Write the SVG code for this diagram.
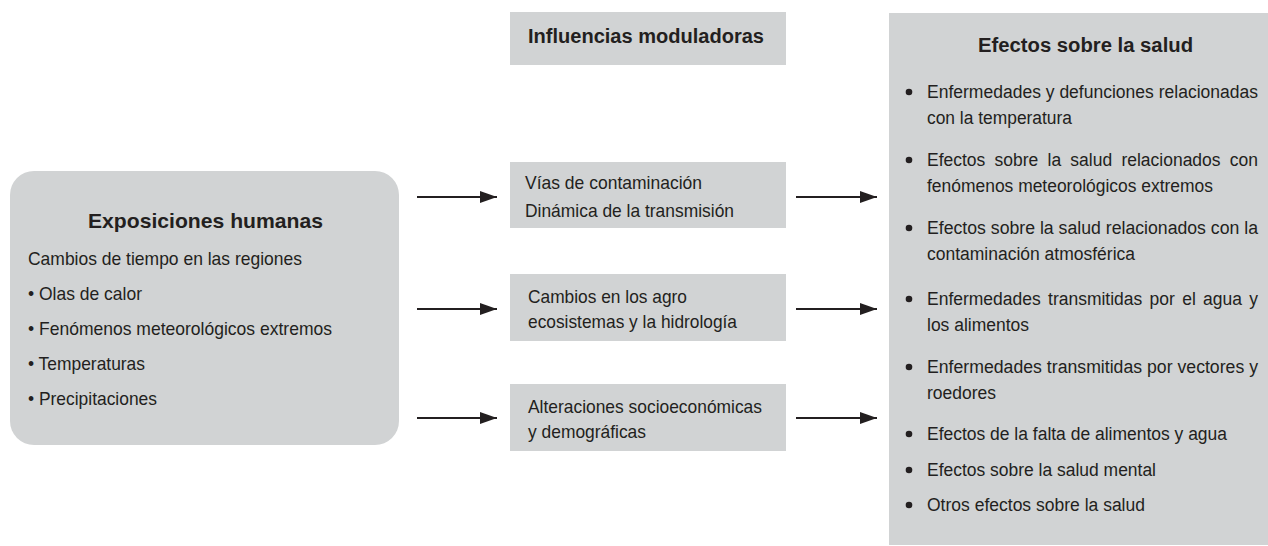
<svg xmlns="http://www.w3.org/2000/svg" width="1268" height="546" viewBox="0 0 1268 546">
<style>
.box{fill:#d1d3d4}
.t{font-family:"Liberation Sans",Arial,sans-serif;font-size:19px;fill:#231f20}
.r{font-family:"Liberation Sans",Arial,sans-serif;font-size:18px;fill:#231f20}
.b{font-family:"Liberation Sans",Arial,sans-serif;font-size:20px;font-weight:bold;fill:#231f20}
.ln{stroke:#231f20;stroke-width:2;fill:none}
.dot{fill:#231f20}
</style>
<defs>
<marker id="ah" markerWidth="17" markerHeight="12" refX="17" refY="6" orient="auto" markerUnits="userSpaceOnUse">
<path d="M0,0 L17,6 L0,12 Z" fill="#231f20"/>
</marker>
</defs>
<rect width="1268" height="546" fill="#ffffff"/>

<g id="exposiciones">
<rect class="box" x="10" y="171" width="389" height="274" rx="24" ry="24"/>
<text class="b" x="88" y="228" style="font-size:21px" textLength="235" lengthAdjust="spacingAndGlyphs">Exposiciones humanas</text>
<text class="t" x="28" y="265" textLength="274" lengthAdjust="spacingAndGlyphs">Cambios de tiempo en las regiones</text>
<text class="t" x="28" y="300" textLength="114" lengthAdjust="spacingAndGlyphs">• Olas de calor</text>
<text class="t" x="28" y="335" textLength="304" lengthAdjust="spacingAndGlyphs">• Fenómenos meteorológicos extremos</text>
<text class="t" x="28" y="370" textLength="117" lengthAdjust="spacingAndGlyphs">• Temperaturas</text>
<text class="t" x="28" y="405" textLength="129" lengthAdjust="spacingAndGlyphs">• Precipitaciones</text>
</g>

<g id="influencias">
<rect class="box" x="510" y="12" width="276" height="53"/>
<text class="b" x="528" y="43" textLength="236" lengthAdjust="spacingAndGlyphs">Influencias moduladoras</text>
</g>

<g id="vias">
<rect class="box" x="510" y="162" width="276" height="66"/>
<text class="t" x="525" y="189" textLength="177" lengthAdjust="spacingAndGlyphs">Vías de contaminación</text>
<text class="t" x="525" y="217" textLength="209" lengthAdjust="spacingAndGlyphs">Dinámica de la transmisión</text>
</g>

<g id="agro">
<rect class="box" x="510" y="274" width="276" height="67"/>
<text class="t" x="528" y="303" textLength="159" lengthAdjust="spacingAndGlyphs">Cambios en los agro</text>
<text class="t" x="528" y="328" textLength="209" lengthAdjust="spacingAndGlyphs">ecosistemas y la hidrología</text>
</g>

<g id="alteraciones">
<rect class="box" x="510" y="384" width="276" height="67"/>
<text class="t" x="528" y="413" textLength="234" lengthAdjust="spacingAndGlyphs">Alteraciones socioeconómicas</text>
<text class="t" x="528" y="438" textLength="118" lengthAdjust="spacingAndGlyphs">y demográficas</text>
</g>

<g id="efectos">
<rect class="box" x="889" y="13" width="379" height="532"/>
<text class="b" x="978" y="52" textLength="215" lengthAdjust="spacingAndGlyphs">Efectos sobre la salud</text>
<circle class="dot" cx="909" cy="92" r="3.3"/>
<text class="r" x="927" y="98" textLength="331" lengthAdjust="spacingAndGlyphs">Enfermedades y defunciones relacionadas</text>
<text class="r" x="927" y="124" textLength="145" lengthAdjust="spacingAndGlyphs">con la temperatura</text>
<circle class="dot" cx="909" cy="160" r="3.3"/>
<text class="r" x="927" y="166" style="word-spacing:4.5px" textLength="331" lengthAdjust="spacingAndGlyphs">Efectos sobre la salud relacionados con</text>
<text class="r" x="927" y="192" textLength="286" lengthAdjust="spacingAndGlyphs">fenómenos meteorológicos extremos</text>
<circle class="dot" cx="909" cy="228" r="3.3"/>
<text class="r" x="927" y="234" textLength="331" lengthAdjust="spacingAndGlyphs">Efectos sobre la salud relacionados con la</text>
<text class="r" x="927" y="260" textLength="208" lengthAdjust="spacingAndGlyphs">contaminación atmosférica</text>
<circle class="dot" cx="909" cy="299" r="3.3"/>
<text class="r" x="927" y="305" style="word-spacing:2.5px" textLength="331" lengthAdjust="spacingAndGlyphs">Enfermedades transmitidas por el agua y</text>
<text class="r" x="927" y="331" textLength="102" lengthAdjust="spacingAndGlyphs">los alimentos</text>
<circle class="dot" cx="909" cy="367" r="3.3"/>
<text class="r" x="927" y="373" textLength="331" lengthAdjust="spacingAndGlyphs">Enfermedades transmitidas por vectores y</text>
<text class="r" x="927" y="399" textLength="69" lengthAdjust="spacingAndGlyphs">roedores</text>
<circle class="dot" cx="909" cy="434" r="3.3"/>
<text class="r" x="927" y="440" textLength="300" lengthAdjust="spacingAndGlyphs">Efectos de la falta de alimentos y agua</text>
<circle class="dot" cx="909" cy="470" r="3.3"/>
<text class="r" x="927" y="476" textLength="229" lengthAdjust="spacingAndGlyphs">Efectos sobre la salud mental</text>
<circle class="dot" cx="909" cy="505" r="3.3"/>
<text class="r" x="927" y="511" textLength="218" lengthAdjust="spacingAndGlyphs">Otros efectos sobre la salud</text>
</g>

<g id="connectors">
<line class="ln" x1="417" y1="197" x2="497" y2="197" marker-end="url(#ah)"/>
<line class="ln" x1="417" y1="309" x2="497" y2="309" marker-end="url(#ah)"/>
<line class="ln" x1="417" y1="418" x2="497" y2="418" marker-end="url(#ah)"/>
<line class="ln" x1="796" y1="197" x2="877" y2="197" marker-end="url(#ah)"/>
<line class="ln" x1="796" y1="309" x2="877" y2="309" marker-end="url(#ah)"/>
<line class="ln" x1="796" y1="418" x2="877" y2="418" marker-end="url(#ah)"/>
</g>
</svg>
